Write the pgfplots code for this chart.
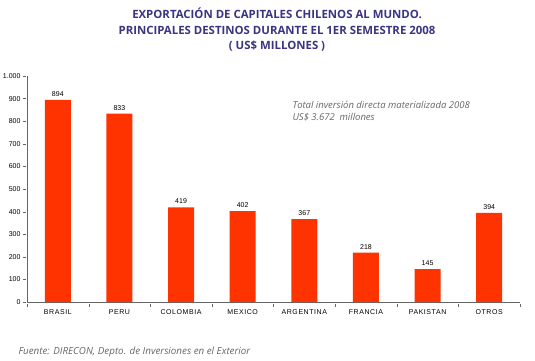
\documentclass[border=0pt]{standalone}
\usepackage{fontspec}
\setmainfont{Liberation Sans}
\newfontfamily\notefont{Open Sans}
\newfontfamily\titlefont{Open Sans}
\usepackage{pgfplots}
\pgfplotsset{compat=1.18}
\definecolor{barred}{HTML}{FF3300}
\definecolor{titleblue}{HTML}{3B3480}
\definecolor{notegray}{HTML}{666666}
\begin{document}
\begin{tikzpicture}[x=1bp,y=1bp]
\useasboundingbox (0,0) rectangle (535,360);
\node[font=\titlefont\bfseries\fontsize{11.4bp}{15.5bp}\selectfont, text=titleblue, align=center] at (277,330)
 {EXPORTACIÓN DE CAPITALES CHILENOS AL MUNDO.\\PRINCIPALES DESTINOS DURANTE EL 1ER SEMESTRE 2008\\( US\$ MILLONES )};
\begin{axis}[
  at={(27bp,58bp)}, anchor=south west,
  scale only axis, width=493bp, height=226bp,
  xmin=-0.5, xmax=7.5, ymin=0, ymax=1000,
  axis x line*=bottom, axis y line*=left,
  axis line style={draw=gray!80!black, line width=0.8pt},
  xtick={0,...,7},
  xticklabels={BRASIL,PERU,COLOMBIA,MEXICO,ARGENTINA,FRANCIA,PAKISTAN,OTROS},
  major x tick style={draw=none},
  minor xtick={-0.5,0.5,...,7.5},
  minor tick length=3bp,
  minor x tick style={draw=gray!80!black, yshift=-1.5bp},
  ytick={0,100,...,1000},
  major tick length=3bp,
  y tick style={draw=gray!80!black, xshift=-1.5bp},
  tick align=outside,
  xticklabel style={font=\fontsize{7bp}{8bp}\selectfont\addfontfeature{LetterSpace=8}, yshift=-1bp},
  yticklabel style={font=\fontsize{7bp}{8bp}\selectfont},
  /pgf/number format/assume math mode=true,
  /pgf/number format/1000 sep={.},
  scaled y ticks=false,
  ybar, bar width=26bp,
  nodes near coords,
  every node near coord/.append style={font=\fontsize{7bp}{8bp}\selectfont, black},
  clip=false,
]
\addplot[fill=barred, draw=none] coordinates {(0,894) (1,833) (2,419) (3,402) (4,367) (5,218) (6,145) (7,394)};
\end{axis}
\node[anchor=west, font=\notefont\itshape\fontsize{9.5bp}{12bp}\selectfont, text=notegray, align=left] at (289,249)
 {Total inversión directa materializada 2008\\US\$ 3.672\ \ millones};
\node[anchor=west, font=\notefont\itshape\fontsize{9.8bp}{12bp}\selectfont, text=notegray] at (15,8)
 {Fuente: DIRECON, Depto. de Inversiones en el Exterior};
\end{tikzpicture}
\end{document}
